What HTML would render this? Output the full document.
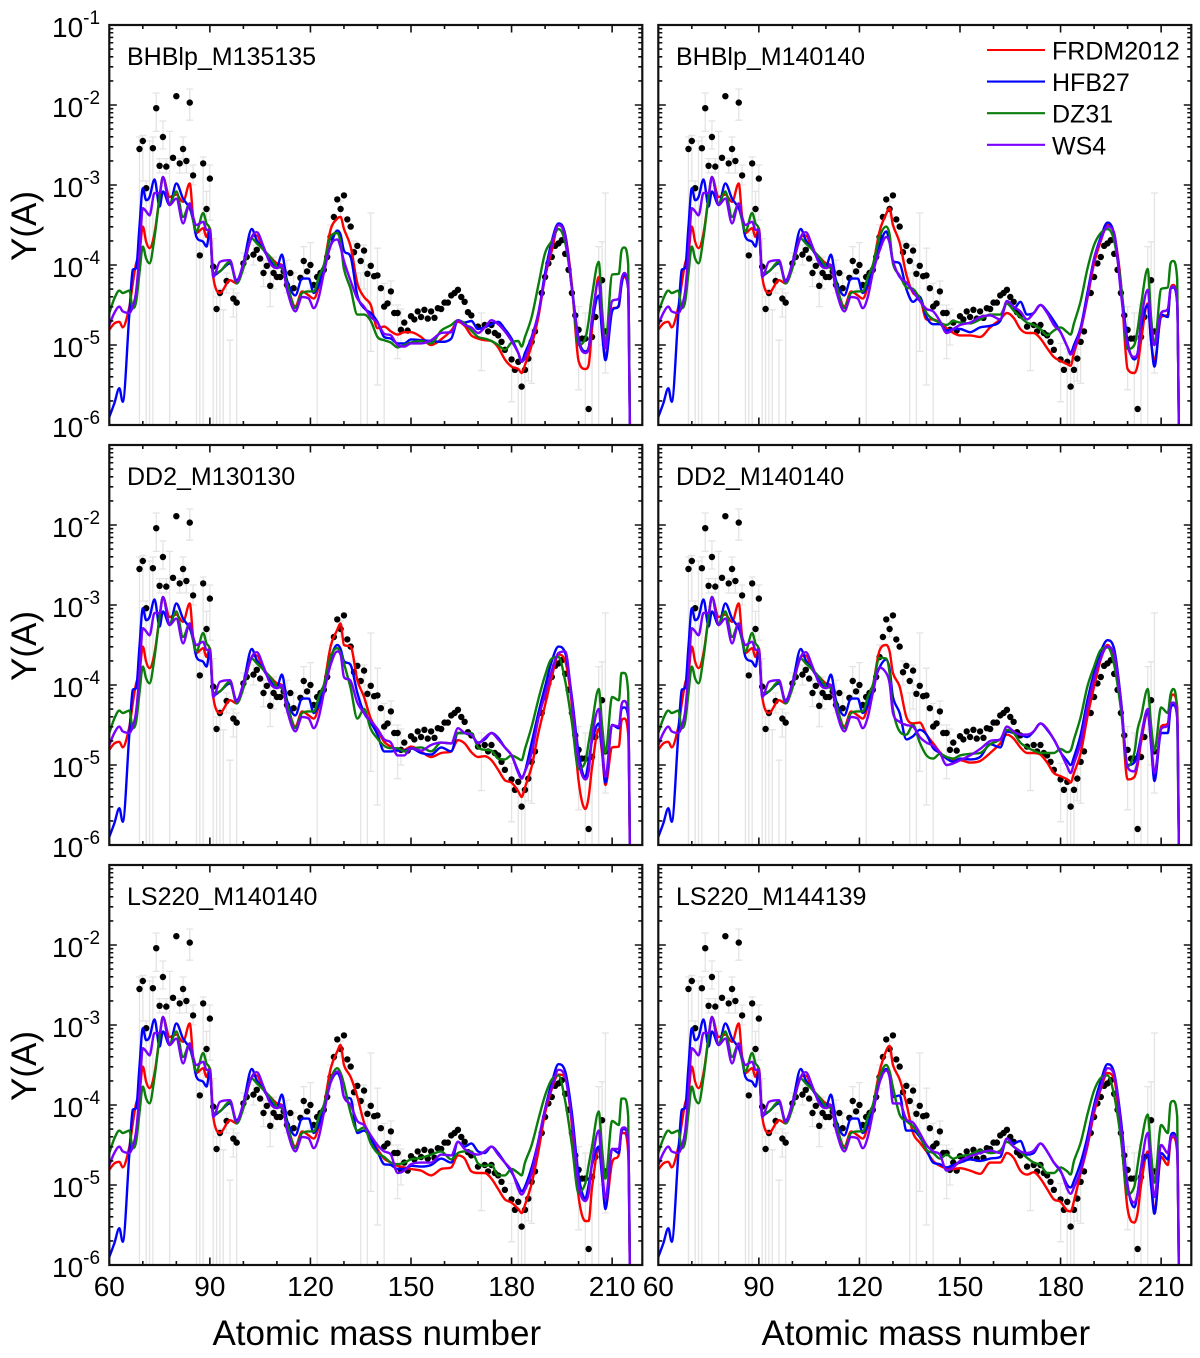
<!DOCTYPE html>
<html>
<head>
<meta charset="utf-8">
<title>Nuclear abundance Y(A) panels</title>
<style>
html,body{margin:0;padding:0;background:#fff;}
svg{display:block;font-family:"Liberation Sans",Arial,sans-serif;}
</style>
</head>
<body>
<svg id="chart" width="1200" height="1358" viewBox="0 0 1200 1358" xmlns="http://www.w3.org/2000/svg"></svg>
<script>
// ---------- shared data ----------
const panelTitles = ["BHBlp_M135135","BHBlp_M140140","DD2_M130130","DD2_M140140","LS220_M140140","LS220_M144139"];
const seriesNames = ["FRDM2012","HFB27","DZ31","WS4"];
const xMajorTicks = [60,90,120,150,180,210];
const xMinorTicks = [70,80,100,110,130,140,160,170,190,200];
const yDecades = [-6,-5,-4,-3,-2,-1];

// observed solar r-process abundances: mass number and log10 Y
const obsA = [69,70,71,73,74,75,76,77,79,80,81,82,83,84,85,87,88,89,90,91,92,93,95,97,98,100,101,103,104,105,106,107,108,109,110,111,112,113,114,115,117,118,119,120,121,122,123,124,125,126,127,128,129,130,131,132,133,134,135,136,137,138,139,140,141,142,143,144,145,146,147,148,149,150,151,152,153,154,155,156,157,158,159,160,161,162,163,164,165,166,167,168,170,172,173,174,175,176,177,178,180,181,182,183,184,185,186,187,189,190,191,192,193,194,195,196,197,198,199,200,201,202,203,204,205,207,208];
const obsLogY = [-2.55,-2.45,-3.04,-2.54,-2.04,-2.76,-2.40,-2.77,-2.66,-1.89,-2.73,-2.55,-2.70,-1.97,-2.88,-3.88,-2.73,-3.30,-2.92,-4.02,-4.55,-4.35,-4.20,-4.42,-4.47,-3.98,-3.90,-3.87,-3.81,-3.92,-4.10,-4.01,-4.26,-4.10,-4.15,-4.15,-4.08,-4.25,-4.10,-4.29,-4.16,-3.95,-4.08,-4.00,-4.25,-4.15,-4.10,-4.06,-3.90,-3.65,-3.40,-3.18,-3.30,-3.13,-3.43,-3.52,-3.84,-3.76,-3.95,-3.82,-4.11,-4.01,-4.14,-4.13,-4.29,-4.52,-4.48,-4.33,-4.60,-4.60,-4.81,-4.72,-4.82,-4.64,-4.68,-4.58,-4.65,-4.56,-4.67,-4.58,-4.66,-4.54,-4.55,-4.47,-4.47,-4.38,-4.35,-4.31,-4.40,-4.46,-4.59,-4.63,-4.77,-4.75,-4.83,-4.75,-4.85,-4.88,-4.96,-5.06,-5.18,-5.31,-5.21,-5.52,-5.31,-5.17,-4.96,-4.83,-4.35,-4.15,-3.98,-3.90,-3.76,-3.73,-3.69,-3.86,-4.06,-4.35,-4.63,-4.81,-4.92,-4.92,-5.80,-4.90,-4.65,-4.19,-4.83];

// error bars: mass number, upper and lower log10 Y (values below the frame run off the axis)
const errA = [69,70,71,72,73,74,75,76,77,78,81,82,83,84,85,86,87,88,89,90,91,92,93,94,95,96,97,98,100,103,106,108,109,113,115,118,120,122,126,129,133,135,136,137,138,140,142,144,146,147,171,180,182,183,184,185,186,200,202,204,206,207,208];
const errHi = [-2.40,-2.38,-2.95,-2.45,-2.40,-1.85,-2.67,-2.20,-2.67,-2.33,-2.67,-2.40,-2.67,-1.80,-2.75,-3.60,-3.60,-2.65,-3.08,-2.75,-3.67,-4.40,-4.30,-4.56,-4.10,-4.94,-4.30,-4.35,-3.85,-3.75,-3.94,-3.94,-3.90,-3.94,-4.10,-3.77,-3.72,-4.15,-3.50,-3.20,-3.70,-4.10,-3.75,-4.00,-3.35,-3.79,-4.23,-4.20,-4.50,-4.55,-4.60,-4.98,-5.05,-5.30,-5.15,-5.05,-4.80,-4.52,-4.60,-4.50,-3.77,-3.71,-3.10];
const errLo = [-7,-2.95,-7,-7,-7,-2.33,-2.85,-2.55,-2.85,-7,-2.85,-2.75,-2.85,-2.19,-3.00,-7,-7,-7,-3.60,-3.44,-7,-7,-7,-7,-4.35,-7,-4.65,-7,-4.10,-4.00,-4.27,-4.52,-4.30,-4.35,-4.50,-4.15,-4.30,-7,-3.80,-3.40,-4.00,-7,-4.30,-7,-5.08,-5.50,-7,-4.50,-5.17,-5.00,-5.32,-5.71,-7,-7,-7,-5.45,-5.48,-5.56,-7,-7,-7,-5.00,-5.35];

// mass grids for the model curves
const lowMass = [60,61.5,63,64,66,67,68,69,70,71,72,73.5,75,76,78,80,82,84,85,86,88,89,90,91,93,96,98,100,102.5,104,106,108,110,111.5,113,115.5,117.5,119.5,121,122.5,124];
const highMass = [126,128,129,130,132,134,136,138,140,142,144,146,148,150,153,156,159,162,164,166,168,170,172,174,176,178,180,182,183,184,186,188,190,192,194,196,198,200,202,203,204,206,207,208,210,212,212.8,213.6,214.8,215.5];

// log10 Y, mass < 125: same in every panel
const lowRed = [-4.81,-4.73,-4.71,-4.78,-4.52,-4.23,-3.98,-3.85,-3.52,-3.71,-3.79,-3.60,-3.15,-2.90,-3.15,-3.12,-3.21,-2.98,-3.40,-3.60,-3.54,-3.65,-3.54,-4.15,-4.35,-4.19,-4.23,-4.02,-3.65,-3.63,-3.81,-3.90,-3.98,-4.00,-4.23,-4.52,-4.33,-4.38,-4.42,-4.27,-4.02];
const lowBlue = [-5.90,-5.73,-5.54,-5.71,-4.60,-4.06,-4.04,-3.52,-3.04,-3.19,-3.15,-2.93,-3.27,-3.08,-3.25,-2.98,-3.17,-3.29,-3.44,-3.65,-3.71,-3.77,-3.58,-4.13,-4.08,-3.98,-4.19,-3.98,-3.55,-3.69,-3.81,-3.94,-4.02,-3.87,-4.19,-4.38,-4.17,-4.17,-4.35,-4.25,-4.02];
const lowGreen = [-4.60,-4.42,-4.32,-4.35,-4.32,-4.54,-4.46,-4.10,-3.77,-3.92,-3.98,-3.65,-3.15,-2.90,-3.23,-3.08,-3.40,-3.23,-3.44,-3.58,-3.35,-3.48,-3.56,-4.10,-4.08,-3.96,-4.23,-4.04,-3.67,-3.73,-3.81,-3.90,-4.02,-4.04,-4.23,-4.54,-4.35,-4.33,-4.33,-4.15,-4.00];
const lowPurple = [-4.75,-4.60,-4.52,-4.58,-4.60,-4.52,-4.33,-3.85,-3.29,-3.33,-3.38,-3.10,-3.10,-2.90,-3.25,-3.17,-3.48,-3.23,-3.40,-3.50,-3.46,-3.56,-3.56,-4.15,-3.96,-3.94,-4.21,-3.98,-3.65,-3.59,-3.77,-3.98,-4.04,-4.00,-4.31,-4.58,-4.40,-4.42,-4.54,-4.40,-4.10];

// log10 Y, mass > 125: one array per panel and model
const redP1 = [-3.56,-3.42,-3.40,-3.55,-3.77,-4.23,-4.40,-4.50,-4.79,-4.77,-4.83,-4.87,-4.84,-4.84,-4.90,-5.00,-4.93,-4.82,-4.71,-4.76,-4.88,-4.92,-4.94,-4.95,-5.03,-5.18,-5.27,-5.30,-5.35,-5.25,-5.00,-4.65,-4.15,-3.82,-3.50,-3.62,-4.25,-5.20,-5.30,-5.25,-4.80,-4.15,-4.70,-5.17,-4.55,-4.52,-4.20,-4.15,-4.30,-7];
const blueP1 = [-3.76,-3.57,-3.62,-3.82,-3.90,-4.38,-4.54,-4.60,-4.71,-4.90,-4.92,-4.98,-4.98,-4.93,-4.94,-4.95,-4.96,-4.92,-4.69,-4.72,-4.70,-4.80,-4.78,-4.74,-4.71,-4.80,-4.92,-5.10,-5.21,-5.10,-4.90,-4.60,-4.10,-3.70,-3.48,-3.62,-4.28,-4.92,-5.08,-5.03,-4.72,-4.38,-4.85,-5.19,-4.58,-4.50,-4.25,-4.12,-4.30,-7];
const greenP1 = [-3.65,-3.60,-3.72,-4.05,-4.30,-4.62,-4.62,-4.70,-4.90,-4.94,-4.97,-5.03,-5.00,-4.97,-4.95,-4.98,-4.82,-4.75,-4.69,-4.73,-4.82,-4.90,-4.92,-4.95,-5.00,-5.06,-4.97,-4.95,-5.02,-4.90,-4.65,-4.25,-3.85,-3.70,-3.55,-3.72,-4.28,-5.00,-4.92,-4.70,-4.38,-3.96,-4.55,-4.98,-4.12,-4.11,-3.82,-3.78,-4.00,-7];
const purpleP1 = [-3.76,-3.68,-3.78,-3.95,-4.20,-4.42,-4.52,-4.65,-4.72,-4.86,-4.88,-5.00,-5.02,-4.98,-4.98,-4.94,-4.85,-4.84,-4.69,-4.75,-4.78,-4.85,-4.78,-4.69,-4.74,-4.83,-4.95,-5.10,-5.21,-5.16,-4.92,-4.60,-4.15,-3.75,-3.50,-3.65,-4.30,-4.95,-5.10,-5.05,-4.66,-4.21,-4.70,-5.04,-4.45,-4.42,-4.18,-4.10,-4.30,-7];

const redP2 = [-3.58,-3.36,-3.29,-3.50,-3.72,-4.12,-4.35,-4.40,-4.68,-4.68,-4.72,-4.79,-4.85,-4.88,-4.88,-4.90,-4.78,-4.68,-4.60,-4.66,-4.80,-4.85,-4.85,-4.92,-5.04,-5.15,-5.20,-5.24,-5.26,-5.10,-4.82,-4.42,-3.98,-3.70,-3.50,-3.62,-4.22,-5.30,-5.35,-5.25,-4.95,-4.48,-4.95,-5.20,-4.65,-4.62,-4.30,-4.25,-4.45,-7];
const blueP2 = [-3.75,-3.58,-3.72,-3.95,-3.98,-4.30,-4.46,-4.40,-4.65,-4.74,-4.74,-4.82,-4.80,-4.80,-4.84,-4.78,-4.76,-4.70,-4.48,-4.55,-4.46,-4.62,-4.60,-4.50,-4.58,-4.70,-4.84,-5.02,-5.10,-5.00,-4.78,-4.35,-3.92,-3.65,-3.47,-3.62,-4.25,-4.96,-5.18,-5.10,-4.78,-4.50,-4.95,-5.27,-4.62,-4.65,-4.30,-4.28,-4.48,-7];
const greenP2 = [-3.65,-3.52,-3.62,-3.98,-4.13,-4.28,-4.30,-4.42,-4.60,-4.68,-4.72,-4.75,-4.70,-4.72,-4.73,-4.68,-4.62,-4.62,-4.48,-4.57,-4.65,-4.72,-4.75,-4.80,-4.88,-4.82,-4.78,-4.84,-4.87,-4.73,-4.45,-4.05,-3.75,-3.60,-3.55,-3.70,-4.25,-5.05,-5.00,-4.80,-4.50,-4.05,-4.65,-5.00,-4.30,-4.28,-3.98,-3.95,-4.18,-7];
const purpleP2 = [-3.82,-3.65,-3.72,-3.95,-4.15,-4.22,-4.33,-4.45,-4.55,-4.58,-4.70,-4.85,-4.80,-4.75,-4.72,-4.65,-4.63,-4.68,-4.45,-4.52,-4.58,-4.68,-4.60,-4.50,-4.60,-4.75,-4.84,-5.02,-5.12,-5.05,-4.80,-4.40,-3.92,-3.68,-3.52,-3.60,-4.35,-5.00,-5.15,-5.10,-4.70,-4.31,-4.75,-5.00,-4.60,-4.55,-4.30,-4.27,-4.48,-7];

const redP3 = [-3.52,-3.31,-3.23,-3.50,-3.52,-3.94,-4.15,-4.42,-4.56,-4.71,-4.77,-4.81,-4.81,-4.77,-4.83,-4.90,-4.85,-4.83,-4.69,-4.73,-4.84,-4.90,-4.89,-4.94,-5.06,-5.19,-5.22,-5.33,-5.40,-5.28,-5.02,-4.60,-4.25,-3.90,-3.62,-3.70,-4.25,-5.20,-5.55,-5.40,-5.03,-4.55,-4.85,-5.25,-4.78,-4.77,-4.45,-4.42,-4.62,-7];
const blueP3 = [-3.67,-3.50,-3.55,-3.70,-3.75,-4.10,-4.35,-4.47,-4.62,-4.83,-4.83,-4.82,-4.82,-4.79,-4.85,-4.87,-4.78,-4.83,-4.60,-4.60,-4.62,-4.72,-4.68,-4.60,-4.66,-4.78,-4.88,-5.08,-5.15,-5.08,-4.72,-4.35,-4.02,-3.70,-3.52,-3.60,-4.15,-4.85,-5.15,-4.95,-4.70,-4.48,-4.80,-5.22,-4.50,-4.54,-4.30,-4.28,-4.40,-7];
const greenP3 = [-3.65,-3.54,-3.60,-3.73,-4.04,-4.42,-4.30,-4.55,-4.67,-4.76,-4.79,-4.79,-4.83,-4.80,-4.78,-4.83,-4.72,-4.73,-4.60,-4.60,-4.60,-4.78,-4.81,-4.82,-4.92,-4.93,-4.88,-4.92,-4.94,-4.80,-4.52,-4.18,-3.88,-3.67,-3.65,-3.95,-4.47,-5.05,-4.96,-4.72,-4.48,-4.05,-4.50,-4.85,-4.15,-4.19,-3.85,-3.85,-4.10,-7];
const purpleP3 = [-3.75,-3.58,-3.62,-3.90,-3.95,-4.22,-4.35,-4.45,-4.55,-4.68,-4.72,-4.88,-4.88,-4.79,-4.82,-4.75,-4.72,-4.73,-4.54,-4.60,-4.62,-4.73,-4.66,-4.60,-4.68,-4.78,-4.88,-5.10,-5.17,-5.08,-4.85,-4.42,-4.12,-3.82,-3.60,-3.58,-4.20,-4.95,-5.18,-5.08,-4.65,-4.30,-4.75,-5.15,-4.50,-4.52,-4.25,-4.20,-4.35,-7];

const redP4 = [-3.57,-3.50,-3.58,-3.85,-4.02,-4.40,-4.48,-4.47,-4.62,-4.73,-4.84,-4.92,-4.94,-4.94,-4.97,-4.95,-4.85,-4.73,-4.62,-4.67,-4.78,-4.85,-4.85,-4.87,-4.97,-5.10,-5.14,-5.18,-5.22,-5.10,-4.85,-4.40,-4.02,-3.68,-3.50,-3.68,-4.23,-5.18,-5.15,-5.00,-4.72,-4.35,-4.70,-5.15,-4.52,-4.48,-4.18,-4.12,-4.28,-7];
const blueP4 = [-3.78,-3.68,-3.80,-4.15,-4.35,-4.68,-4.64,-4.56,-4.62,-4.79,-4.85,-4.92,-4.96,-4.92,-4.93,-4.90,-4.74,-4.78,-4.58,-4.60,-4.62,-4.65,-4.58,-4.48,-4.56,-4.68,-4.84,-4.95,-5.00,-4.90,-4.62,-4.19,-3.85,-3.58,-3.44,-3.55,-4.18,-5.00,-4.97,-4.85,-4.65,-4.33,-4.75,-5.20,-4.60,-4.60,-4.30,-4.25,-4.40,-7];
const greenP4 = [-3.66,-3.67,-3.85,-4.30,-4.58,-4.62,-4.50,-4.72,-4.88,-4.92,-4.86,-4.90,-4.92,-4.88,-4.86,-4.85,-4.74,-4.68,-4.56,-4.60,-4.72,-4.78,-4.82,-4.85,-4.85,-4.85,-4.80,-4.84,-4.82,-4.68,-4.40,-4.02,-3.77,-3.56,-3.53,-3.75,-4.30,-5.02,-4.85,-4.55,-4.40,-4.05,-4.50,-4.82,-4.28,-4.35,-4.12,-4.05,-4.35,-7];
const purpleP4 = [-3.78,-3.85,-3.98,-4.35,-4.46,-4.50,-4.52,-4.65,-4.72,-4.76,-4.85,-5.00,-4.98,-4.94,-4.88,-4.80,-4.70,-4.68,-4.52,-4.58,-4.62,-4.62,-4.58,-4.48,-4.55,-4.68,-4.84,-5.02,-5.10,-4.98,-4.72,-4.28,-3.92,-3.66,-3.52,-3.62,-4.20,-5.03,-5.08,-4.95,-4.65,-4.30,-4.70,-5.10,-4.55,-4.50,-4.25,-4.22,-4.42,-7];

const redP5 = [-3.55,-3.33,-3.25,-3.50,-3.65,-3.90,-4.22,-4.40,-4.55,-4.67,-4.72,-4.76,-4.78,-4.80,-4.82,-4.88,-4.80,-4.78,-4.63,-4.67,-4.83,-4.85,-4.85,-4.92,-5.05,-5.18,-5.22,-5.30,-5.35,-5.25,-4.98,-4.58,-4.10,-3.80,-3.62,-3.65,-4.25,-5.15,-5.45,-5.45,-5.03,-4.55,-4.85,-5.28,-4.72,-4.62,-4.35,-4.35,-4.60,-7];
const blueP5 = [-3.72,-3.60,-3.68,-3.90,-3.92,-4.35,-4.32,-4.42,-4.58,-4.74,-4.75,-4.80,-4.80,-4.76,-4.77,-4.75,-4.67,-4.72,-4.46,-4.52,-4.48,-4.58,-4.60,-4.52,-4.60,-4.72,-4.84,-5.00,-5.08,-5.02,-4.78,-4.45,-4.05,-3.72,-3.49,-3.58,-4.10,-4.88,-5.17,-5.00,-4.75,-4.52,-4.90,-5.30,-4.55,-4.60,-4.33,-4.30,-4.45,-7];
const greenP5 = [-3.68,-3.54,-3.60,-3.74,-4.10,-4.32,-4.28,-4.48,-4.60,-4.65,-4.72,-4.74,-4.72,-4.68,-4.66,-4.62,-4.58,-4.68,-4.60,-4.58,-4.58,-4.73,-4.76,-4.75,-4.88,-4.88,-4.80,-4.85,-4.88,-4.72,-4.50,-4.18,-3.88,-3.68,-3.63,-3.95,-4.50,-5.10,-4.98,-4.75,-4.52,-4.08,-4.55,-4.92,-4.20,-4.25,-3.92,-3.92,-4.15,-7];
const purpleP5 = [-3.72,-3.58,-3.65,-3.90,-4.00,-4.20,-4.25,-4.38,-4.50,-4.58,-4.62,-4.85,-4.82,-4.74,-4.72,-4.72,-4.62,-4.63,-4.46,-4.55,-4.60,-4.62,-4.58,-4.52,-4.62,-4.72,-4.82,-5.05,-5.12,-5.06,-4.85,-4.45,-4.05,-3.78,-3.56,-3.65,-4.20,-5.00,-5.20,-5.10,-4.72,-4.32,-4.80,-5.17,-4.55,-4.55,-4.30,-4.28,-4.45,-7];

const redP6 = [-3.58,-3.32,-3.26,-3.50,-3.68,-3.98,-4.35,-4.47,-4.58,-4.70,-4.76,-4.79,-4.80,-4.79,-4.82,-4.86,-4.72,-4.72,-4.60,-4.66,-4.82,-4.87,-4.84,-4.92,-5.05,-5.18,-5.21,-5.32,-5.33,-5.20,-4.85,-4.52,-4.10,-3.80,-3.60,-3.68,-4.35,-5.30,-5.47,-5.35,-5.00,-4.58,-4.90,-5.35,-4.65,-4.75,-4.45,-4.40,-4.60,-7];
const blueP6 = [-3.70,-3.55,-3.65,-3.90,-3.88,-4.32,-4.32,-4.40,-4.56,-4.72,-4.74,-4.78,-4.75,-4.72,-4.68,-4.70,-4.67,-4.65,-4.42,-4.48,-4.45,-4.62,-4.60,-4.48,-4.58,-4.72,-4.83,-5.00,-5.03,-4.95,-4.72,-4.40,-4.00,-3.70,-3.49,-3.60,-4.18,-5.00,-5.28,-5.10,-4.80,-4.62,-5.00,-5.36,-4.60,-4.68,-4.40,-4.35,-4.55,-7];
const greenP6 = [-3.65,-3.50,-3.58,-3.78,-4.12,-4.20,-4.27,-4.38,-4.56,-4.60,-4.67,-4.62,-4.67,-4.64,-4.62,-4.57,-4.60,-4.57,-4.46,-4.52,-4.58,-4.66,-4.72,-4.75,-4.85,-4.85,-4.78,-4.83,-4.87,-4.70,-4.47,-4.12,-3.82,-3.66,-3.63,-3.88,-4.42,-5.12,-5.02,-4.75,-4.48,-4.12,-4.60,-4.97,-4.25,-4.35,-3.98,-3.95,-4.15,-7];
const purpleP6 = [-3.72,-3.57,-3.65,-3.98,-3.98,-4.18,-4.22,-4.35,-4.50,-4.58,-4.62,-4.82,-4.78,-4.70,-4.64,-4.60,-4.57,-4.60,-4.42,-4.52,-4.58,-4.60,-4.57,-4.48,-4.58,-4.72,-4.82,-5.05,-5.11,-5.03,-4.82,-4.48,-4.05,-3.78,-3.54,-3.62,-4.25,-5.02,-5.22,-5.10,-4.78,-4.35,-4.80,-5.15,-4.50,-4.60,-4.42,-4.38,-4.52,-7];

const panelHigh = [
  [redP1,blueP1,greenP1,purpleP1],
  [redP2,blueP2,greenP2,purpleP2],
  [redP3,blueP3,greenP3,purpleP3],
  [redP4,blueP4,greenP4,purpleP4],
  [redP5,blueP5,greenP5,purpleP5],
  [redP6,blueP6,greenP6,purpleP6]
];
const lowSeries = [lowRed,lowBlue,lowGreen,lowPurple];

// ---------- drawing ----------
const SVGNS = "http://www.w3.org/2000/svg";
const root = document.getElementById("chart");
const seriesColors = ["#ff0000","#0000ff","#0a7d0a","#7a00ff"];
const columnLeft = [109.3,658.3];
const rowTop = [25,445,865];
const plotW = 533, plotH = 400;
const xMin = 60, xMax = 219, yMin = -6, yMax = -1;

function mk(tag, parent, attrs) {
  const e = document.createElementNS(SVGNS, tag);
  for (const k in attrs) e.setAttribute(k, attrs[k]);
  parent.appendChild(e);
  return e;
}
function xAxis(left, a) { return left + (a - xMin) / (xMax - xMin) * plotW; }
function yAxis(top, v) { return top + (yMax - v) / (yMax - yMin) * plotH; }

// shape-preserving cubic through the points, so nothing overshoots next to steep drops
function smoothPath(pts) {
  const n = pts.length;
  const d0 = [];
  for (let i = 0; i < n - 1; i++) d0.push((pts[i + 1][1] - pts[i][1]) / (pts[i + 1][0] - pts[i][0]));
  const m = new Array(n).fill(0);
  m[0] = d0[0];
  m[n - 1] = d0[n - 2];
  for (let i = 1; i < n - 1; i++) {
    if (d0[i - 1] * d0[i] <= 0) { m[i] = 0; continue; }
    const c = (pts[i + 1][1] - pts[i - 1][1]) / (pts[i + 1][0] - pts[i - 1][0]);
    const lim = 3 * Math.min(Math.abs(d0[i - 1]), Math.abs(d0[i]));
    m[i] = Math.sign(c) * Math.min(Math.abs(c), lim);
  }
  let d = "M" + pts[0][0].toFixed(2) + " " + pts[0][1].toFixed(2);
  for (let i = 0; i < n - 1; i++) {
    const h = pts[i + 1][0] - pts[i][0];
    d += "C" + (pts[i][0] + h / 3).toFixed(2) + " " + (pts[i][1] + m[i] * h / 3).toFixed(2) + " " +
         (pts[i + 1][0] - h / 3).toFixed(2) + " " + (pts[i + 1][1] - m[i + 1] * h / 3).toFixed(2) + " " +
         pts[i + 1][0].toFixed(2) + " " + pts[i + 1][1].toFixed(2);
  }
  return d;
}

const defs = mk("defs", root, {});

panelTitles.forEach(function (title, pi) {
  const col = pi % 2, row = Math.floor(pi / 2);
  const left = columnLeft[col], top = rowTop[row];
  const g = mk("g", root, {});
  
  

  const clip = mk("clipPath", defs, { id: "clip" + pi });
  mk("rect", clip, { x: left, y: top, width: plotW, height: plotH });

  const plot = mk("g", g, { "clip-path": "url(#clip" + pi + ")" });
  
  

  // error bars
  const errG = mk("g", plot, { stroke: "#e4e4e4", "stroke-width": "1.3", fill: "none" });
  
  
  errA.forEach(function (a, i) {
    const x = xAxis(left, a), yh = yAxis(top, errHi[i]), yl = yAxis(top, errLo[i]);
    const bar = mk("path", errG, { d: "M" + x + " " + yh + "V" + yl + "M" + (x - 3.5) + " " + yh + "h7M" + (x - 3.5) + " " + yl + "h7" });
    
    
  });

  // observed points
  const dotG = mk("g", plot, { fill: "#000" });
  
  
  obsA.forEach(function (a, i) {
    const dot = mk("circle", dotG, { cx: xAxis(left, a), cy: yAxis(top, obsLogY[i]), r: 3.2 });
    
    
  });

  // model curves
  const mass = lowMass.concat(highMass);
  seriesNames.forEach(function (name, si) {
    const vals = lowSeries[si].concat(panelHigh[pi][si]);
    const pts = mass.map(function (a, i) { return [xAxis(left, a), yAxis(top, vals[i])]; });
    const line = mk("path", plot, { d: smoothPath(pts), fill: "none", stroke: seriesColors[si], "stroke-width": "2.4", "stroke-linejoin": "round" });
    
    
  });

  // ticks
  const tickG = mk("g", g, { stroke: "#111", "stroke-width": "1.6", fill: "none" });
  
  
  let td = "";
  xMajorTicks.forEach(function (a) {
    const x = xAxis(left, a);
    td += "M" + x + " " + top + "v7.5M" + x + " " + (top + plotH) + "v-7.5";
  });
  xMinorTicks.forEach(function (a) {
    const x = xAxis(left, a);
    td += "M" + x + " " + top + "v4M" + x + " " + (top + plotH) + "v-4";
  });
  yDecades.forEach(function (k) {
    const y = yAxis(top, k);
    td += "M" + left + " " + y + "h7.5M" + (left + plotW) + " " + y + "h-7.5";
    if (k < yMax) {
      for (let m = 2; m <= 9; m++) {
        const ym = yAxis(top, k + Math.log10(m));
        td += "M" + left + " " + ym + "h4M" + (left + plotW) + " " + ym + "h-4";
      }
    }
  });
  mk("path", tickG, { d: td });

  // frame
  const frame = mk("rect", g, { x: left, y: top, width: plotW, height: plotH, fill: "none", stroke: "#111", "stroke-width": "2.2" });
  
  

  // panel label
  const label = mk("text", g, { x: left + 17.7, y: top + 40, "font-size": "25", fill: "#000" });
  label.textContent = title;
  
  

  // y tick labels and title on the left column
  if (col === 0) {
    yDecades.forEach(function (k) {
      if (k === -1 && row > 0) return;
      const y = yAxis(top, k);
      const t = mk("text", g, { x: 52, y: y + 12, "font-size": "28", fill: "#000" });
      
      
      t.appendChild(document.createTextNode("10"));
      const sup = mk("tspan", t, { dy: "-13", "font-size": "19" });
      sup.textContent = String(k);
    });
    const yt = mk("text", g, { transform: "translate(36," + (top + 201) + ") rotate(-90)", "text-anchor": "middle", "font-size": "35", fill: "#000" });
    yt.textContent = "Y(A)";
    
    
  }

  // x tick labels and title on the bottom row
  if (row === 2) {
    xMajorTicks.forEach(function (a) {
      const t = mk("text", g, { x: xAxis(left, a), y: top + plotH + 31, "text-anchor": "middle", "font-size": "28", fill: "#000" });
      t.textContent = String(a);
      
      
    });
    const xt = mk("text", g, { x: left + plotW / 2 + 1, y: top + plotH + 80, "text-anchor": "middle", "font-size": "35", fill: "#000" });
    xt.textContent = "Atomic mass number";
    
    
  }

  // legend in the top-right panel
  if (pi === 1) {
    const lg = mk("g", g, {});
    
    
    seriesNames.forEach(function (name, si) {
      const ly = 50 + si * 31.6;
      const entry = mk("g", lg, {});
      
      
      mk("line", entry, { x1: 987, x2: 1045, y1: ly, y2: ly, stroke: seriesColors[si], "stroke-width": "2.1" });
      const t = mk("text", entry, { x: 1052, y: ly + 9.5, "font-size": "25", fill: "#000" });
      t.textContent = name;
    });
  }
});
</script>
</body>
</html>
